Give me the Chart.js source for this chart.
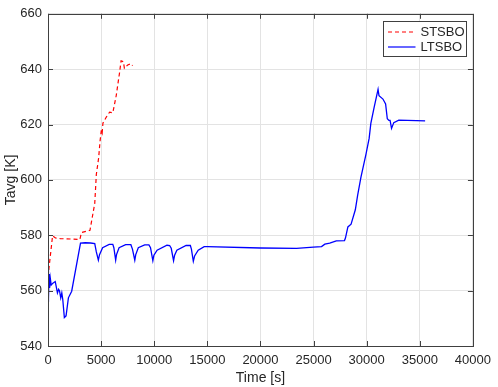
<!DOCTYPE html>
<html>
<head>
<meta charset="utf-8">
<script src="https://cdn.jsdelivr.net/npm/chart.js@4"></script>
<style>
html,body{margin:0;padding:0;background:#fff;}
canvas{display:block;}
</style>
</head>
<body>
<canvas id="c" width="498" height="387"></canvas>
<script>
// ---- data ----
const seriesLabels = ["STSBO", "LTSBO"];
const xTicks = [0, 5000, 10000, 15000, 20000, 25000, 30000, 35000, 40000];
const yTicks = [540, 560, 580, 600, 620, 640, 660];

const stsboTime = [0, 430, 700, 1150, 3000, 3150, 3950, 4400, 4550, 4770, 4900, 5020, 5100, 5170, 5490, 5800, 6100, 6420, 6730, 6880, 7100, 7190, 7500, 7810, 7960];
const stsboTavg = [565, 579.8, 579, 578.8, 578.5, 581, 581.8, 591.5, 602, 608, 614, 618, 617, 620.5, 622.7, 624.5, 624.2, 630.4, 638.6, 643, 642.7, 640.3, 641.5, 642, 641.3];

const ltsboTime = [0, 20, 40, 70, 100, 150, 215, 300, 460, 680, 890, 1000, 1080, 1200, 1300, 1390, 1540, 1700, 1920, 2230, 3060, 3500, 4000, 4400, 4550, 4740, 4850, 5140, 5760, 6100, 6200, 6370, 6450, 6690, 7310, 7800, 7950, 8170, 8260, 8500, 9100, 9500, 9650, 9870, 9970, 10270, 11200, 11450, 11600, 11820, 11920, 12130, 13000, 13400, 13500, 13680, 13800, 14140, 14700, 15000, 20000, 23400, 24980, 25750, 26060, 26520, 27140, 27910, 28000, 28230, 28530, 28930, 29150, 29460, 29930, 30230, 30390, 30700, 31070, 31160, 31530, 31780, 31940, 32090, 32200, 32340, 32550, 33020, 35500];
const ltsboTavg = [567, 556, 568, 557, 566, 561, 564.5, 562, 562.7, 563.3, 559.2, 560.5, 560, 557.4, 559.2, 556.8, 550.3, 550.9, 557.4, 559.8, 577.2, 577.3, 577.2, 577.0, 574, 571, 573, 575.5, 576.7, 576.7, 575.5, 571, 573, 575.5, 576.6, 576.6, 575, 571, 573, 575.5, 576.5, 576.5, 575.5, 570.8, 572.8, 574.6, 576.4, 576.3, 575.3, 570.8, 572.8, 574.6, 576.3, 576.3, 575, 570.6, 572.5, 574.6, 575.9, 575.9, 575.4, 575.3, 575.7, 575.9, 576.8, 577.2, 578, 578.1, 579, 583, 584, 589.2, 594.5, 601, 609.2, 615, 620.4, 626.2, 632.7, 630.4, 629.2, 627.4, 622.1, 621.5, 621.5, 618.6, 620.7, 621.6, 621.3];

const toPts = (xs, ys) => xs.map((x, i) => ({x: x, y: ys[i]}));
const FONT = "'Liberation Sans', Arial, Helvetica, sans-serif";
const TXT = '#262626';

const frameAndLegend = {
  id: 'frameAndLegend',
  afterDraw(chart) {
    const ctx = chart.ctx;
    const a = chart.chartArea;
    const xs = chart.scales.x, ys = chart.scales.y;
    ctx.save();
    // inward ticks
    ctx.strokeStyle = '#404040';
    ctx.lineWidth = 1;
    const tl = 5;
    ctx.beginPath();
    xTicks.forEach(v => {
      const px = Math.round(xs.getPixelForValue(v)) + 0.5;
      ctx.moveTo(px, a.bottom); ctx.lineTo(px, a.bottom - tl);
      ctx.moveTo(px, a.top); ctx.lineTo(px, a.top + tl);
    });
    yTicks.forEach(v => {
      const py = Math.round(ys.getPixelForValue(v)) + 0.5;
      ctx.moveTo(a.left, py); ctx.lineTo(a.left + tl, py);
      ctx.moveTo(a.right, py); ctx.lineTo(a.right - tl, py);
    });
    ctx.stroke();
    // frame
    ctx.strokeStyle = '#404040';
    ctx.strokeRect(Math.round(a.left) + 0.5, Math.round(a.top) + 0.5, Math.round(a.right - a.left), Math.round(a.bottom - a.top));
    // legend
    const bw = 83, bh = 35;
    const bx = Math.round(a.right - 7 - bw) + 0.5, by = Math.round(a.top + 7) + 0.5;
    ctx.fillStyle = '#fff';
    ctx.fillRect(bx, by, bw, bh);
    ctx.strokeStyle = '#404040';
    ctx.strokeRect(bx, by, bw, bh);
    ctx.font = '13px ' + FONT;
    ctx.textBaseline = 'middle';
    ctx.textAlign = 'left';
    chart.data.datasets.forEach((ds, i) => {
      const yy = by + 10.5 + i * 15;
      ctx.strokeStyle = ds.borderColor;
      ctx.lineWidth = 1.2;
      ctx.setLineDash(ds.borderDash || []);
      ctx.beginPath();
      ctx.moveTo(bx + 4.5, yy); ctx.lineTo(bx + 32, yy);
      ctx.stroke();
      ctx.setLineDash([]);
      ctx.fillStyle = TXT;
      ctx.fillText(ds.label, bx + 37, yy + 0.5);
    });
    ctx.restore();
  }
};

new Chart(document.getElementById('c'), {
  type: 'line',
  data: {
    datasets: [
      {label: seriesLabels[0], data: toPts(stsboTime, stsboTavg), borderColor: '#ff0000', borderWidth: 1.2, borderDash: [4, 3], pointRadius: 0, tension: 0, fill: false},
      {label: seriesLabels[1], data: toPts(ltsboTime, ltsboTavg), borderColor: '#0000ff', borderWidth: 1.3, pointRadius: 0, tension: 0, fill: false}
    ]
  },
  options: {
    responsive: false,
    animation: false,
    devicePixelRatio: 1,
    layout: {padding: {top: 6, right: 20, left: 0, bottom: 0}},
    plugins: {legend: {display: false}, tooltip: {enabled: false}},
    scales: {
      x: {
        type: 'linear', min: 0, max: 40000,
        afterBuildTicks: s => { s.ticks = xTicks.map(v => ({value: v})); },
        afterFit: s => { s.height = 41; },
        ticks: {color: TXT, font: {family: FONT, size: 13}, padding: 7, maxRotation: 0, autoSkip: false, callback: v => String(v)},
        grid: {color: '#e3e3e3', drawTicks: false, tickLength: 0},
        border: {display: false},
        title: {display: true, text: 'Time [s]', color: TXT, font: {family: FONT, size: 14}, padding: {top: 0, bottom: 0}}
      },
      y: {
        type: 'linear', min: 540, max: 660,
        afterBuildTicks: s => { s.ticks = yTicks.map(v => ({value: v})); },
        afterFit: s => { s.width = 48; },
        ticks: {color: TXT, font: {family: FONT, size: 13}, padding: 6, autoSkip: false, callback: v => String(v)},
        grid: {color: '#e3e3e3', drawTicks: false, tickLength: 0},
        border: {display: false},
        title: {display: true, text: 'Tavg [K]', color: TXT, font: {family: FONT, size: 14}, padding: {top: 3, bottom: 0}}
      }
    }
  },
  plugins: [frameAndLegend]
});
</script>
</body>
</html>
